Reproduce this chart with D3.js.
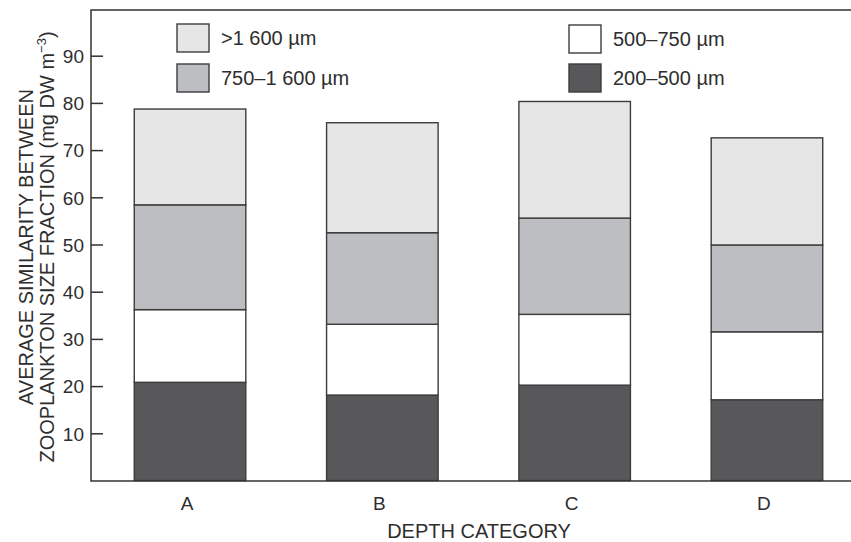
<!DOCTYPE html>
<html>
<head>
<meta charset="utf-8">
<script src="https://cdn.jsdelivr.net/npm/d3@7"></script>
<style>
  html, body { margin: 0; padding: 0; background: #fff; }
  svg { display: block; }
  text { font-family: "Liberation Sans", Arial, Helvetica, sans-serif; fill: #2e2e2e; }
</style>
</head>
<body>
<svg id="chart" width="851" height="542"></svg>
<script>
// Depth categories along the x axis
const categories = ["A", "B", "C", "D"];

// Size fractions, stacked bottom to top
const fractions = ["200–500 µm", "500–750 µm", "750–1 600 µm", ">1 600 µm"];

// Contribution of each size fraction per depth category (mg DW m-3)
const frac200_500  = [20.8, 18.1, 20.2, 17.1];
const frac500_750  = [15.4, 15.0, 15.0, 14.4];
const frac750_1600 = [22.2, 19.4, 20.4, 18.4];
const fracOver1600 = [20.3, 23.3, 24.7, 22.7];

const yTicks = [10, 20, 30, 40, 50, 60, 70, 80, 90];

const fills = {
  "200–500 µm": "#58585a",
  "500–750 µm": "#ffffff",
  "750–1 600 µm": "#bdbec2",
  ">1 600 µm": "#e6e6e6"
};

const rows = categories.map((c, i) => ({
  cat: c,
  "200–500 µm": frac200_500[i],
  "500–750 µm": frac500_750[i],
  "750–1 600 µm": frac750_1600[i],
  ">1 600 µm": fracOver1600[i]
}));

const svg = d3.select("#chart");
const plotLeft = 91, plotTop = 10, plotBottom = 481, plotRight = 866;
const labelFont = "'Liberation Sans', Arial, sans-serif";

const x = d3.scaleBand()
  .domain(categories)
  .range([plotLeft, plotRight])
  .paddingInner(0.42)
  .paddingOuter(0.225);

const y = d3.scaleLinear().domain([0, 100]).range([480.5, 8.5]);

const series = d3.stack().keys(fractions)(rows);

// Stacked bars
svg.append("g")
  .selectAll("g")
  .data(series)
  .join("g")
  .attr("fill", d => fills[d.key])
  .selectAll("rect")
  .data(d => d)
  .join("rect")
  .attr("x", d => x(d.data.cat))
  .attr("width", x.bandwidth())
  .attr("y", d => y(d[1]))
  .attr("height", d => y(d[0]) - y(d[1]))
  .attr("stroke", "#3c3c3c")
  .attr("stroke-width", 1.4);

// Plot frame (top, left, bottom)
svg.append("path")
  .attr("d", `M${plotRight},${plotTop} H${plotLeft} V${plotBottom} H${plotRight}`)
  .attr("fill", "none")
  .attr("stroke", "#333")
  .attr("stroke-width", 1.5);

// Y axis with inward ticks
const yAxis = d3.axisLeft(y).tickValues(yTicks).tickSize(-12).tickPadding(7).tickFormat(d3.format("d"));
const gy = svg.append("g").attr("transform", `translate(${plotLeft},0)`).call(yAxis)
  .attr("font-size", 19).attr("font-family", labelFont);
gy.select(".domain").remove();
gy.selectAll(".tick line").attr("stroke", "#333").attr("stroke-width", 1.5);
gy.selectAll(".tick text")
  .attr("fill", "#2e2e2e")
  .attr("dy", "0.36em");

// X axis labels
const xAxis = d3.axisBottom(x).tickSize(0).tickPadding(16);
const gx = svg.append("g").attr("transform", `translate(-3,${plotBottom})`).call(xAxis)
  .attr("font-size", 19).attr("font-family", labelFont);
gx.select(".domain").remove();
gx.selectAll(".tick text").attr("fill", "#2e2e2e");

// Axis titles
svg.append("text")
  .attr("x", 479).attr("y", 538)
  .attr("text-anchor", "middle")
  .style("font-size", "20px")
  .text("DEPTH CATEGORY");

const yTitle = svg.append("g").attr("transform", "translate(0,247) rotate(-90)");
yTitle.append("text")
  .attr("x", 0).attr("y", 33)
  .attr("text-anchor", "middle")
  .style("font-size", "20px")
  .text("AVERAGE SIMILARITY BETWEEN");
const t2 = yTitle.append("text")
  .attr("x", 0).attr("y", 54)
  .attr("text-anchor", "middle")
  .style("font-size", "20px");
t2.append("tspan").text("ZOOPLANKTON SIZE FRACTION (mg DW m");
t2.append("tspan").attr("dy", -8).style("font-size", "13px").text("−3");
t2.append("tspan").attr("dy", 8).text(")");

// Legend
const legendItems = [
  { key: ">1 600 µm", x: 177, y: 24 },
  { key: "750–1 600 µm", x: 177, y: 64 },
  { key: "500–750 µm", x: 569, y: 25 },
  { key: "200–500 µm", x: 569, y: 64 }
];
const lg = svg.append("g")
  .selectAll("g")
  .data(legendItems)
  .join("g")
  .attr("transform", d => `translate(${d.x},${d.y})`);
lg.append("rect")
  .attr("width", 32).attr("height", 28)
  .attr("fill", d => fills[d.key])
  .attr("stroke", "#3c3c3c")
  .attr("stroke-width", 1.4);
lg.append("text")
  .attr("x", 44).attr("y", 21)
  .style("font-size", "20px")
  .text(d => d.key);
</script>
</body>
</html>
